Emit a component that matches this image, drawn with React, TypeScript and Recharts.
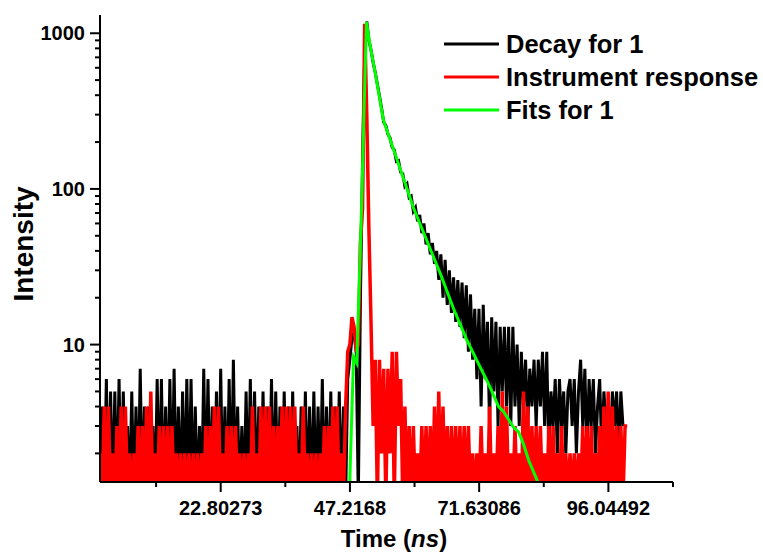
import React from 'react';
import { LineChart, Line, XAxis, YAxis } from 'recharts';

// Channel width of the time grid (ns) for the measured traces
const TIME_STEP_NS = 0.4;

// Decay for 1 (counts per channel, channel i at i * TIME_STEP_NS)
const decayCounts = [
  1, 4, 1, 6, 1, 5, 1, 5, 1, 6,
  1, 5, 1, 3, 1, 5, 1, 4, 1, 7,
  1, 4, 1, 4, 1, 3, 1, 6, 1, 6,
  1, 4, 1, 6, 1, 7, 1, 4, 1, 5,
  1, 6, 1, 6, 1, 4, 1, 3, 1, 7,
  1, 6, 1, 4, 1, 5, 1, 7, 1, 4,
  1, 6, 1, 8, 1, 4, 1, 3, 1, 5,
  1, 6, 1, 5, 1, 4, 1, 5, 1, 4,
  1, 6, 1, 5, 1, 4, 1, 5, 1, 4,
  1, 5, 1, 3, 1, 4, 1, 5, 1, 4,
  1, 5, 1, 4, 1, 6, 1, 4, 1, 5,
  1, 4, 1, 5, 1, 4, 1, 6,
  8, 11, 12, 9, 1, 20, 150, 700, 1190, 900,
  780, 650, 560, 470, 395, 330, 268, 255, 225, 212,
  185, 178, 150, 152, 128, 125, 104, 108, 88, 90,
  72, 76, 62, 68, 52, 60, 44, 52, 38, 45,
  33, 40, 26, 38, 20, 35, 18, 30, 16, 27,
  14, 26, 13, 25, 11, 24, 9, 21, 8, 17,
  6, 17, 4, 18, 6, 14, 3, 15, 5, 14,
  3, 13, 5, 13, 4, 13, 3, 13, 4, 10,
  3, 9, 4, 8, 3, 7, 4, 8, 3, 8,
  4, 9, 3, 9, 2, 5, 3, 6, 2, 6,
  3, 5, 2, 5, 6, 3, 6, 2, 5, 8,
  3, 7, 2, 6, 3, 6, 2, 4, 6, 2,
  5, 3, 4, 2, 5, 3, 5, 2, 5, 3,
];

// Instrument response (counts per channel)
const irfCounts = [
  2, 1, 4, 1, 4, 1, 2, 1, 3, 1,
  4, 1, 4, 1, 2, 1, 2, 1, 3, 1,
  3, 1, 4, 1, 5, 1, 2, 1, 3, 1,
  3, 1, 3, 1, 3, 1, 2, 1, 2, 1,
  2, 1, 2, 1, 2, 1, 2, 1, 2, 1,
  3, 1, 3, 1, 4, 1, 4, 1, 2, 1,
  3, 1, 3, 1, 3, 1, 2, 1, 2, 1,
  2, 1, 4, 1, 2, 1, 4, 1, 4, 1,
  4, 1, 3, 1, 3, 1, 4, 1, 4, 1,
  4, 1, 4, 1, 2, 1, 4, 1, 2, 1,
  2, 1, 2, 1, 2, 1, 3, 1, 3, 1,
  4, 1, 4, 1, 2, 1, 4, 9,
  10, 15, 13, 9, 10, 45, 75, 1150, 300, 55,
  14, 3, 8, 1, 8, 2, 7, 1, 7, 2,
  9, 1, 9, 3, 6, 1, 4,
  1, 3, 1, 3, 1,
  2, 1, 3, 1, 3, 1, 3, 1, 4, 1,
  5, 1, 4, 1, 3, 1, 3, 1, 3, 1,
  3, 1, 3, 1, 3, 1, 2, 1, 2, 1,
  3, 1, 2, 1, 4, 1, 2, 1, 3, 1,
  5, 1, 4, 1, 2, 1, 3, 1, 2, 1,
  5, 1, 4, 1, 3, 1, 3, 1, 3, 1,
  2, 1, 3, 1, 3, 1, 2, 1, 3, 1,
  2, 1, 2, 1, 2, 1, 2, 1, 3, 1,
  3, 1, 3, 1, 2, 1, 3, 1, 4, 1,
  5, 1, 4, 1, 3, 1, 3, 1, 3, 3,
];

// Fits for 1
const fitTimes = [
  47.15, 47.9, 48.5, 49.0, 49.45, 49.9, 50.35, 51.0, 52.0, 53.55,
  55.8, 59.2, 61.7, 64.4, 66.8, 69.3, 71.8, 73.4, 75.3, 76.25,
  78.1, 79.1, 80.0, 81.0, 82.6, 82.9,
];
const fitCounts = [
  1.2, 8.3, 7.6, 26, 84, 340, 1180, 845, 556, 276,
  166, 76, 47, 28, 17, 10.7, 7.2, 5.6, 4.0, 3.7,
  2.95, 2.74, 2.3, 1.8, 1.34, 1.25,
];

const xMajorTicks = [22.80273, 47.2168, 71.63086, 96.04492];
const xMinorTicks = [10.5957, 35.00977, 59.42383, 83.83789, 108.25195];
const yMajorTicks = [10, 100, 1000];
const yMinorTicks = [2, 3, 4, 5, 6, 7, 8, 9, 20, 30, 40, 50, 60, 70, 80, 90, 200, 300, 400, 500, 600, 700, 800, 900];

const seriesNames = ['Decay for 1', 'Instrument response', 'Fits for 1'];
const seriesColors = ['#000000', '#ff0000', '#00ff00'];

const X_DOMAIN: [number, number] = [0, 108.25195];
const Y_DOMAIN: [number, number] = [1.31, 1310];

const FONT = '"Liberation Sans", Arial, Helvetica, sans-serif';

const decayData = decayCounts.map((v, i) => ({ t: i * TIME_STEP_NS, v }));
const irfData = irfCounts.map((v, i) => ({ t: i * TIME_STEP_NS, v }));
const fitData = fitTimes.map((t, i) => ({ t, v: fitCounts[i] }));

const xTicks = [...xMinorTicks, ...xMajorTicks].sort((a, b) => a - b);
const yTicks = [...yMinorTicks, ...yMajorTicks].sort((a, b) => a - b);

const XTick = (props: any) => {
  const { x, y, payload } = props;
  const major = xMajorTicks.includes(payload.value);
  return (
    <g>
      <line x1={x} x2={x} y1={y} y2={y + (major ? 10 : 5)} stroke="#000" strokeWidth={2} />
      {major && (
        <text x={x} y={y + 33} textAnchor="middle" fontSize={20} fontWeight="bold" fontFamily={FONT} fill="#000">
          {String(payload.value)}
        </text>
      )}
    </g>
  );
};

const YTick = (props: any) => {
  const { x, y, payload } = props;
  const major = yMajorTicks.includes(payload.value);
  return (
    <g>
      <line x1={x - (major ? 10 : 5)} x2={x} y1={y} y2={y} stroke="#000" strokeWidth={2} />
      {major && (
        <text x={x - 15} y={y + 7} textAnchor="end" fontSize={20} fontWeight="bold" fontFamily={FONT} fill="#000">
          {String(payload.value)}
        </text>
      )}
    </g>
  );
};

export default function App() {
  const seriesData = [decayData, irfData, fitData];
  const widths = [3, 3.5, 3];
  return (
    <div style={{ position: 'absolute', left: 0, top: 0, width: 763, height: 553, background: '#fff' }}>
      <LineChart width={763} height={553} margin={{ top: 15, right: 90, bottom: 0, left: 0 }}>
        <XAxis
          type="number"
          dataKey="t"
          domain={X_DOMAIN}
          allowDataOverflow
          ticks={xTicks}
          interval={0}
          tickSize={0}
          tickMargin={0}
          tickLine={false}
          tick={<XTick />}
          axisLine={{ stroke: '#000', strokeWidth: 2 }}
          height={71}
        />
        <YAxis
          type="number"
          scale="log"
          domain={Y_DOMAIN}
          allowDataOverflow
          ticks={yTicks}
          interval={0}
          tickSize={0}
          tickMargin={0}
          tickLine={false}
          tick={<YTick />}
          axisLine={{ stroke: '#000', strokeWidth: 2 }}
          width={100}
        />
        {seriesData.map((d, k) => (
          <Line
            key={seriesNames[k]}
            data={d}
            dataKey="v"
            name={seriesNames[k]}
            type="linear"
            stroke={seriesColors[k]}
            strokeWidth={widths[k]}
            strokeLinejoin="miter"
            dot={false}
            activeDot={false}
            isAnimationActive={false}
          />
        ))}
      </LineChart>
      <svg width={763} height={553} style={{ position: 'absolute', left: 0, top: 0, pointerEvents: 'none' }}>
        <text transform="translate(33,244) rotate(-90)" textAnchor="middle" fontSize={28} fontWeight="bold" fontFamily={FONT} fill="#000">
          Intensity
        </text>
        <text x={394} y={547} textAnchor="middle" fontSize={24} fontWeight="bold" fontFamily={FONT} fill="#000">
          <tspan>Time (</tspan>
          <tspan fontStyle="italic">ns</tspan>
          <tspan>)</tspan>
        </text>
        {seriesNames.map((name, k) => {
          const cy = 44 + k * 33;
          return (
            <g key={name}>
              <line x1={444} x2={499} y1={cy} y2={cy} stroke={seriesColors[k]} strokeWidth={3} />
              <text x={506} y={cy + 9} fontSize={25.5} fontWeight="bold" fontFamily={FONT} fill="#000">
                {name}
              </text>
            </g>
          );
        })}
      </svg>
    </div>
  );
}
